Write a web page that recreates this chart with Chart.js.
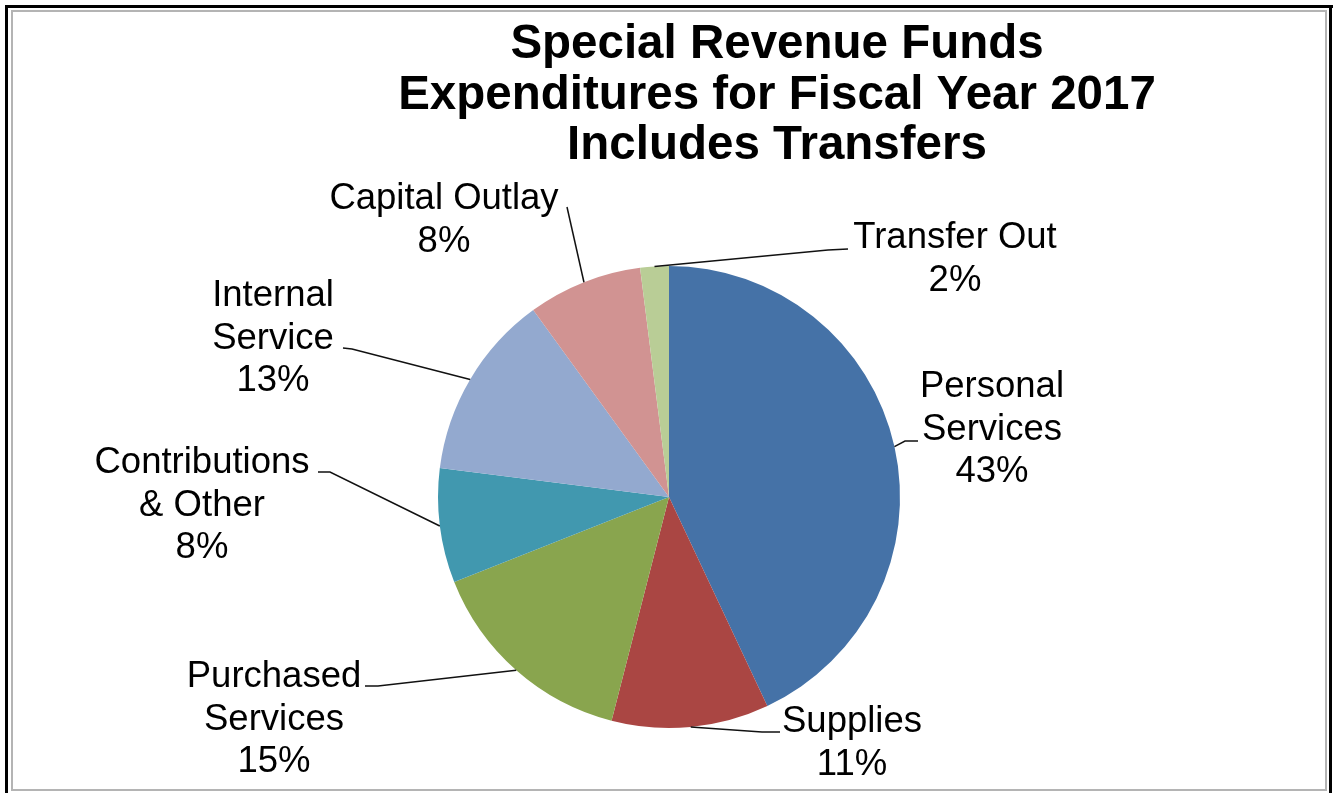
<!DOCTYPE html>
<html>
<head>
<meta charset="utf-8">
<title>Special Revenue Funds Expenditures FY2017</title>
<script src="https://cdn.jsdelivr.net/npm/chart.js@4.4.1/dist/chart.umd.min.js"></script>
<style>
  html, body { margin: 0; padding: 0; background: #fff; }
  #wrap { width: 1340px; height: 793px; }
</style>
</head>
<body>
<div id="wrap"><canvas id="expenseChart" width="1340" height="793"></canvas></div>
<script>
const categories = ['Personal Services', 'Supplies', 'Purchased Services', 'Contributions & Other', 'Internal Service', 'Capital Outlay', 'Transfer Out'];
const shares = [43, 11, 15, 8, 13, 8, 2];
const sliceColors = ['#4572A7', '#AA4643', '#89A54E', '#4198AF', '#93A9CF', '#D19392', '#B9CD96'];
const labelLines = [
    ['Personal', 'Services'],
    ['Supplies'],
    ['Purchased', 'Services'],
    ['Contributions', '& Other'],
    ['Internal', 'Service'],
    ['Capital Outlay'],
    ['Transfer Out']
];
const titleLines = ['Special Revenue Funds', 'Expenditures for Fiscal Year 2017', 'Includes Transfers'];

// label block centre / first baseline, plus the bend and end of each leader line
const labelLayout = [
    { x: 992, y: 397, bend: [905, 441], end: [918, 441] },
    { x: 852, y: 732, bend: [762, 732], end: [780, 732] },
    { x: 274, y: 687, bend: [378, 686], end: [365, 686] },
    { x: 202, y: 473, bend: [330, 472], end: [318, 472] },
    { x: 273, y: 306, bend: [352, 349], end: [343, 348] },
    { x: 444, y: 209, bend: [567, 207], end: [567, 207] },
    { x: 955, y: 248, bend: [828, 250], end: [848, 249] }
];

const FONT = '"Liberation Sans", Arial, sans-serif';

// double frame round the whole picture
const framePlugin = {
    id: 'frame',
    beforeDraw(chart) {
        const ctx = chart.ctx;
        ctx.save();
        ctx.fillStyle = '#fff';
        ctx.fillRect(0, 0, chart.width, chart.height);
        ctx.fillStyle = '#000';
        ctx.fillRect(5, 5, 1328, 3);
        ctx.fillRect(5, 5, 3, 800);
        ctx.fillRect(1329, 5, 3, 800);
        ctx.strokeStyle = '#b4b4b4';
        ctx.lineWidth = 2;
        ctx.strokeRect(12, 11, 1314, 779);
        ctx.restore();
    }
};

// title, category labels and leader lines
const labelPlugin = {
    id: 'pieLabels',
    afterDraw(chart) {
        const ctx = chart.ctx;
        const arcs = chart.getDatasetMeta(0).data;
        ctx.save();

        ctx.fillStyle = '#000';
        ctx.textAlign = 'center';
        ctx.textBaseline = 'alphabetic';
        ctx.font = 'bold 47.5px ' + FONT;
        titleLines.forEach((line, i) => ctx.fillText(line, 777, 58 + i * 50.5));

        ctx.strokeStyle = '#111';
        ctx.lineWidth = 1.5;
        arcs.forEach((arc, i) => {
            const lay = labelLayout[i];
            const mid = (arc.startAngle + arc.endAngle) / 2;
            const px = arc.x + Math.cos(mid) * arc.outerRadius;
            const py = arc.y + Math.sin(mid) * arc.outerRadius;
            ctx.beginPath();
            ctx.moveTo(px, py);
            ctx.lineTo(lay.bend[0], lay.bend[1]);
            ctx.lineTo(lay.end[0], lay.end[1]);
            ctx.stroke();
        });

        ctx.font = '36.5px ' + FONT;
        labelLines.forEach((lines, i) => {
            const lay = labelLayout[i];
            const rows = lines.concat([shares[i] + '%']);
            rows.forEach((row, j) => ctx.fillText(row, lay.x, lay.y + j * 42.5));
        });
        ctx.restore();
    }
};

new Chart(document.getElementById('expenseChart'), {
    type: 'pie',
    data: {
        labels: categories,
        datasets: [{
            data: shares,
            backgroundColor: sliceColors,
            borderWidth: 0
        }]
    },
    options: {
        responsive: false,
        animation: false,
        events: [],
        layout: { padding: { top: 266, bottom: 65, left: 438, right: 440 } },
        plugins: {
            legend: { display: false },
            tooltip: { enabled: false },
            title: { display: false }
        }
    },
    plugins: [framePlugin, labelPlugin]
});
</script>
</body>
</html>
